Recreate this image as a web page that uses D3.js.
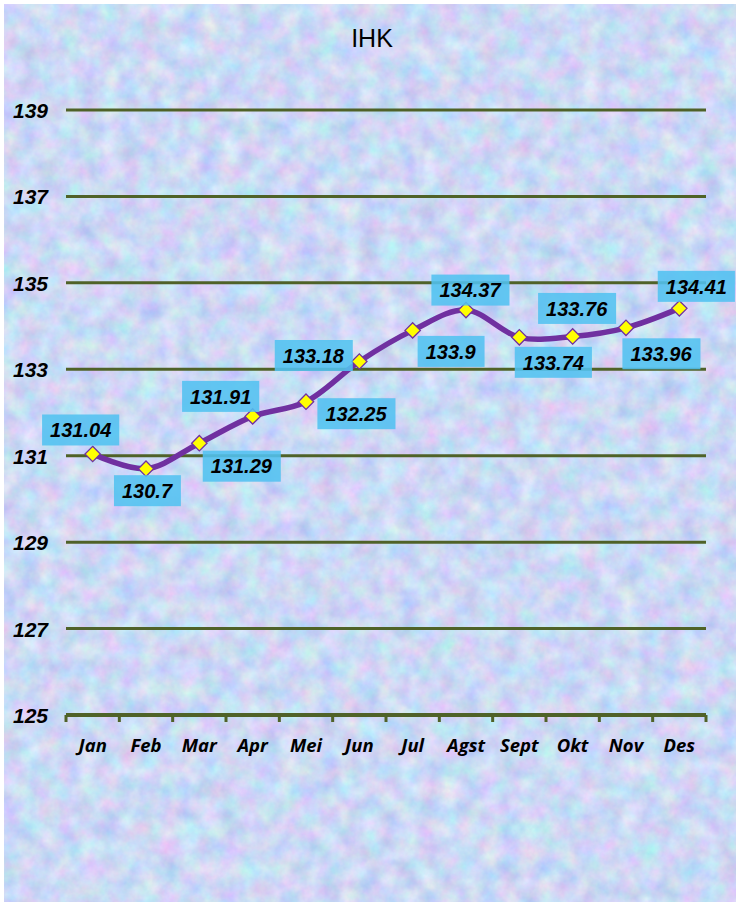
<!DOCTYPE html>
<html>
<head>
<meta charset="utf-8">
<script src="https://cdn.jsdelivr.net/npm/d3@7"></script>
<style>
  html, body { margin: 0; padding: 0; background: #ffffff; }
  svg { display: block; }
</style>
</head>
<body>
<svg id="chart" width="736" height="906"></svg>
<script>
// IHK monthly index values
const months = ["Jan", "Feb", "Mar", "Apr", "Mei", "Jun", "Jul", "Agst", "Sept", "Okt", "Nov", "Des"];
const ihk = [131.04, 130.7, 131.29, 131.91, 132.25, 133.18, 133.9, 134.37, 133.74, 133.76, 133.96, 134.41];
const yTicks = [125, 127, 129, 131, 133, 135, 137, 139];
const chartTitle = "IHK";

// where each value label sits relative to its point (box centre offset)
const labelPlacement = [
  [-12, -24], [1, 22], [42, 23], [-32, -20], [50, 12], [-46, -6],
  [38, 21], [4, -20], [34, 25], [4, -28], [35, 26], [17, -22]
];

const W = 736, H = 906;
const margin = { left: 66, right: 30, top: 110, bottom: 191 };
const svg = d3.select("#chart");
const defs = svg.append("defs");

// pastel mottled panel texture
const tex = defs.append("filter").attr("id", "tex")
  .attr("x", 0).attr("y", 0).attr("width", 1).attr("height", 1)
  .attr("color-interpolation-filters", "sRGB");
tex.append("feTurbulence").attr("type", "fractalNoise")
  .attr("baseFrequency", "0.05").attr("numOctaves", 4).attr("seed", 7).attr("result", "n");
tex.append("feColorMatrix").attr("in", "n").attr("type", "matrix")
  .attr("values", "0.32 0 0 0 0.64  0 0.26 0 0 0.72  0 0 0.12 0 0.9  0 0 0 0 1");

svg.append("rect").attr("x", 4).attr("y", 4).attr("width", W + 20).attr("height", H - 8)
  .attr("rx", 16).attr("fill", "#cbd8f5");
svg.append("rect").attr("x", 4).attr("y", 4).attr("width", W + 20).attr("height", H - 8)
  .attr("rx", 16).attr("filter", "url(#tex)").attr("fill", "#fff");

const x = d3.scaleBand().domain(months).range([margin.left, W - margin.right]);
const y = d3.scaleLinear().domain([125, 139]).range([H - margin.bottom, margin.top]);

const arial = "'Liberation Sans', Arial, sans-serif";

// title
svg.append("text").attr("x", 372).attr("y", 47).attr("text-anchor", "middle")
  .attr("font-family", arial).attr("font-size", 25)
  .attr("fill", "#000").text(chartTitle);

// horizontal gridlines
const grid = svg.append("g");
grid.selectAll("line").data(yTicks.filter(t => t !== 125)).join("line")
  .attr("x1", margin.left).attr("x2", W - margin.right)
  .attr("y1", d => y(d)).attr("y2", d => y(d))
  .attr("stroke", "#4f6228").attr("stroke-width", 3);

// y axis labels
const yAxis = d3.axisLeft(y).tickValues(yTicks).tickSize(0).tickPadding(0).tickFormat(d3.format("d"));
const yg = svg.append("g").attr("transform", "translate(48,0)").call(yAxis);
yg.select(".domain").remove();
yg.selectAll("text")
  .attr("font-family", arial).attr("font-size", 21)
  .attr("font-weight", "bold").attr("font-style", "italic").attr("fill", "#000")
  .attr("dy", "0.36em");

// category axis with ticks on band boundaries
const base = y(125);
svg.append("line").attr("x1", margin.left).attr("x2", W - margin.right)
  .attr("y1", base).attr("y2", base).attr("stroke", "#4f6228").attr("stroke-width", 4);
const bounds = months.map(m => x(m)).concat([x(months[months.length - 1]) + x.bandwidth()]);
svg.append("g").selectAll("line").data(bounds).join("line")
  .attr("x1", d => d).attr("x2", d => d).attr("y1", base).attr("y2", base + 7)
  .attr("stroke", "#4f6228").attr("stroke-width", 3);
svg.append("g").selectAll("text").data(months).join("text")
  .attr("x", d => x(d) + x.bandwidth() / 2).attr("y", base + 37)
  .attr("text-anchor", "middle")
  .attr("font-family", "'Open Sans', Lato, sans-serif").attr("font-size", 18.5)
  .attr("font-weight", "bold").attr("font-style", "italic").attr("fill", "#000")
  .text(d => d);

// smoothed line
const px = (d, i) => x(months[i]) + x.bandwidth() / 2;
const line = d3.line().x(px).y(d => y(d)).curve(d3.curveCatmullRom.alpha(0.5));
svg.append("path").datum(ihk).attr("d", line)
  .attr("fill", "none").attr("stroke", "#7030a0").attr("stroke-width", 5.5)
  .attr("stroke-linejoin", "round").attr("stroke-linecap", "round");

// diamond markers
const diamond = d3.symbol().type(d3.symbolDiamond2).size(150);
svg.append("g").selectAll("path").data(ihk).join("path")
  .attr("transform", (d, i) => `translate(${px(d, i)},${y(d)})`)
  .attr("d", diamond)
  .attr("fill", "#ffff00").attr("stroke", "#7030a0").attr("stroke-width", 1.3);

// value labels in blue boxes
const lab = svg.append("g").selectAll("g").data(ihk).join("g")
  .attr("transform", (d, i) => `translate(${px(d, i) + labelPlacement[i][0]},${y(d) + labelPlacement[i][1]})`);
lab.append("text")
  .attr("text-anchor", "middle").attr("dy", "0.36em")
  .attr("font-family", arial).attr("font-size", 20)
  .attr("font-weight", "bold").attr("font-style", "italic").attr("fill", "#000")
  .text(d => d);
lab.each(function () {
  const g = d3.select(this);
  const bb = g.select("text").node().getBBox();
  g.insert("rect", "text")
    .attr("x", bb.x - 8).attr("y", -15.5).attr("width", bb.width + 16).attr("height", 31)
    .attr("fill", "#52c1f0").attr("fill-opacity", 0.88);
});
</script>
</body>
</html>
